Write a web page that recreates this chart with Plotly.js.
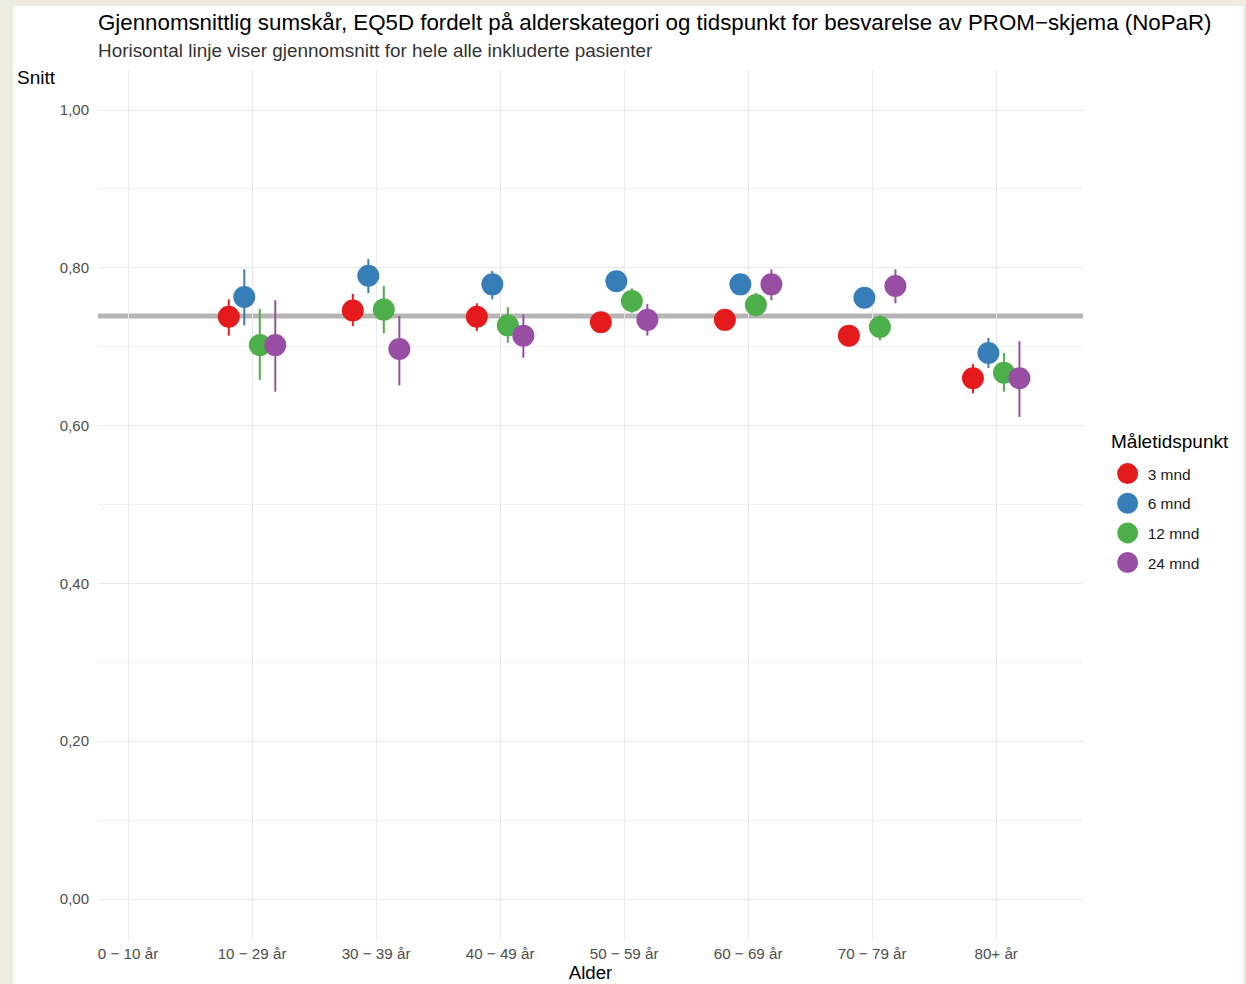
<!DOCTYPE html>
<html>
<head>
<meta charset="utf-8">
<script src="https://cdn.plot.ly/plotly-3.0.1.min.js"></script>
<style>
  html, body { margin: 0; padding: 0; background: #eeebe1; width: 1246px; height: 984px; overflow: hidden; }
  #chart { position: absolute; left: 13px; top: 6px; width: 1230px; height: 978px; background: #ffffff; }
</style>
</head>
<body>
<div id="chart"></div>
<script>
// ---- data ----
const categories = ["0 − 10 år", "10 − 29 år", "30 − 39 år", "40 − 49 år", "50 − 59 år", "60 − 69 år", "70 − 79 år", "80+ år"];
const dataCategories = ["10 − 29 år", "30 − 39 år", "40 − 49 år", "50 − 59 år", "60 − 69 år", "70 − 79 år", "80+ år"];
const seriesNames = ["3 mnd", "6 mnd", "12 mnd", "24 mnd"];
const seriesColors = ["#E41A1C", "#377EB8", "#4DAF4A", "#984EA3"];

const mean3  = [0.738, 0.746, 0.738, 0.731, 0.734, 0.714, 0.660];
const lo3    = [0.714, 0.726, 0.720, 0.721, 0.724, 0.704, 0.641];
const hi3    = [0.760, 0.767, 0.755, 0.741, 0.744, 0.724, 0.678];

const mean6  = [0.763, 0.790, 0.779, 0.783, 0.779, 0.762, 0.692];
const lo6    = [0.727, 0.768, 0.760, 0.773, 0.769, 0.752, 0.673];
const hi6    = [0.798, 0.811, 0.796, 0.793, 0.789, 0.772, 0.711];

const mean12 = [0.702, 0.747, 0.727, 0.758, 0.753, 0.725, 0.667];
const lo12   = [0.658, 0.717, 0.705, 0.743, 0.738, 0.708, 0.643];
const hi12   = [0.748, 0.777, 0.750, 0.774, 0.768, 0.740, 0.692];

const mean24 = [0.702, 0.697, 0.714, 0.734, 0.779, 0.777, 0.660];
const lo24   = [0.643, 0.651, 0.686, 0.714, 0.759, 0.755, 0.611];
const hi24   = [0.759, 0.739, 0.741, 0.754, 0.798, 0.798, 0.707];

const overallMean = 0.739;
const yTickVals = [0, 0.2, 0.4, 0.6, 0.8, 1.0];

// ---- traces ----
const means = [mean3, mean6, mean12, mean24];
const lows = [lo3, lo6, lo12, lo24];
const highs = [hi3, hi6, hi12, hi24];

const traces = seriesNames.map((name, k) => ({
  type: "scatter",
  mode: "markers",
  name: name,
  legendgroup: name,
  orientation: "v",
  offsetgroup: name,
  x: dataCategories,
  y: means[k],
  marker: { color: seriesColors[k], size: 17, line: { width: 5, color: seriesColors[k] } },
  error_y: {
    type: "data",
    symmetric: false,
    array: highs[k].map((h, i) => h - means[k][i]),
    arrayminus: lows[k].map((l, i) => means[k][i] - l),
    color: seriesColors[k],
    thickness: 2,
    width: 0
  },
  hoverinfo: "x+y+name"
}));

const fontFam = "Liberation Sans, Arial, sans-serif";
const plotL = 85, plotR = 1070, plotT = 64, plotB = 933;
const pw = plotR - plotL, ph = plotB - plotT;

const layout = {
  width: 1230,
  height: 978,
  paper_bgcolor: "#ffffff",
  plot_bgcolor: "#ffffff",
  margin: { l: plotL, r: 1230 - plotR, t: plotT, b: 978 - plotB, pad: 0 },
  separators: ", ",
  scattermode: "group",
  scattergap: 0.5,
  font: { family: fontFam, color: "#1a1a1a" },
  title: {
    text: "Gjennomsnittlig sumskår, EQ5D fordelt på alderskategori og tidspunkt for besvarelse av PROM−skjema (NoPaR)",
    font: { size: 22.3, family: fontFam, color: "#000000" },
    xref: "paper", x: 0, xanchor: "left",
    yref: "container", y: 1 - 16 / 978, yanchor: "middle"
  },
  xaxis: {
    type: "category",
    categoryorder: "array",
    categoryarray: categories,
    tickvals: categories,
    range: [-0.242, 7.70],
    showgrid: true,
    gridcolor: "#e9e9e9",
    gridwidth: 1.2,
    zeroline: false,
    showline: false,
    ticks: "",
    tickfont: { size: 15.2, color: "#4d4d4d", family: fontFam },
    ticklabelstandoff: 4,
    title: { text: "Alder", font: { size: 18.7, color: "#000000", family: fontFam }, standoff: 1 },
    fixedrange: true
  },
  yaxis: {
    range: [-0.0507, 1.0507],
    tickvals: yTickVals,
    tickformat: ".2f",
    showgrid: true,
    gridcolor: "#e9e9e9",
    gridwidth: 1.2,
    zeroline: false,
    showline: false,
    ticks: "",
    tickfont: { size: 15, color: "#4d4d4d", family: fontFam },
    ticklabelstandoff: 8,
    minor: { tickvals: [0.1, 0.3, 0.5, 0.7, 0.9], showgrid: true, gridcolor: "#f1f1f1", gridwidth: 1, ticks: "" },
    fixedrange: true
  },
  shapes: [{
    type: "line",
    xref: "paper", x0: 0, x1: 1,
    yref: "y", y0: overallMean, y1: overallMean,
    line: { color: "#b5b5b5", width: 5 },
    layer: "between"
  }],
  annotations: [
    {
      text: "Horisontal linje viser gjennomsnitt for hele alle inkluderte pasienter",
      xref: "paper", x: 0, xanchor: "left", xshift: -2,
      yref: "paper", y: 1, yanchor: "middle", yshift: 20,
      showarrow: false,
      font: { size: 18.9, color: "#333333", family: fontFam }
    },
    {
      text: "Snitt",
      xref: "paper", x: 0, xanchor: "left", xshift: -83,
      yref: "paper", y: 1, yanchor: "middle", yshift: -7,
      showarrow: false,
      font: { size: 19, color: "#000000", family: fontFam }
    },
    {
      text: "Måletidspunkt",
      xref: "paper", x: (1098 - plotL) / pw, xanchor: "left", xshift: -2,
      yref: "paper", y: (plotB - 435) / ph, yanchor: "middle",
      showarrow: false,
      font: { size: 19, color: "#000000", family: fontFam }
    }
  ],
  showlegend: true,
  legend: {
    font: { size: 15.5, color: "#1a1a1a", family: fontFam },
    x: 1.025, xanchor: "left",
    y: (plotB - 451) / ph, yanchor: "top",
    traceorder: "grouped",
    tracegroupgap: 6.5,
    bgcolor: "rgba(0,0,0,0)",
    borderwidth: 0
  },
  hovermode: "closest"
};

Plotly.newPlot("chart", traces, layout, { displayModeBar: false, staticPlot: false, responsive: false });
</script>
</body>
</html>
